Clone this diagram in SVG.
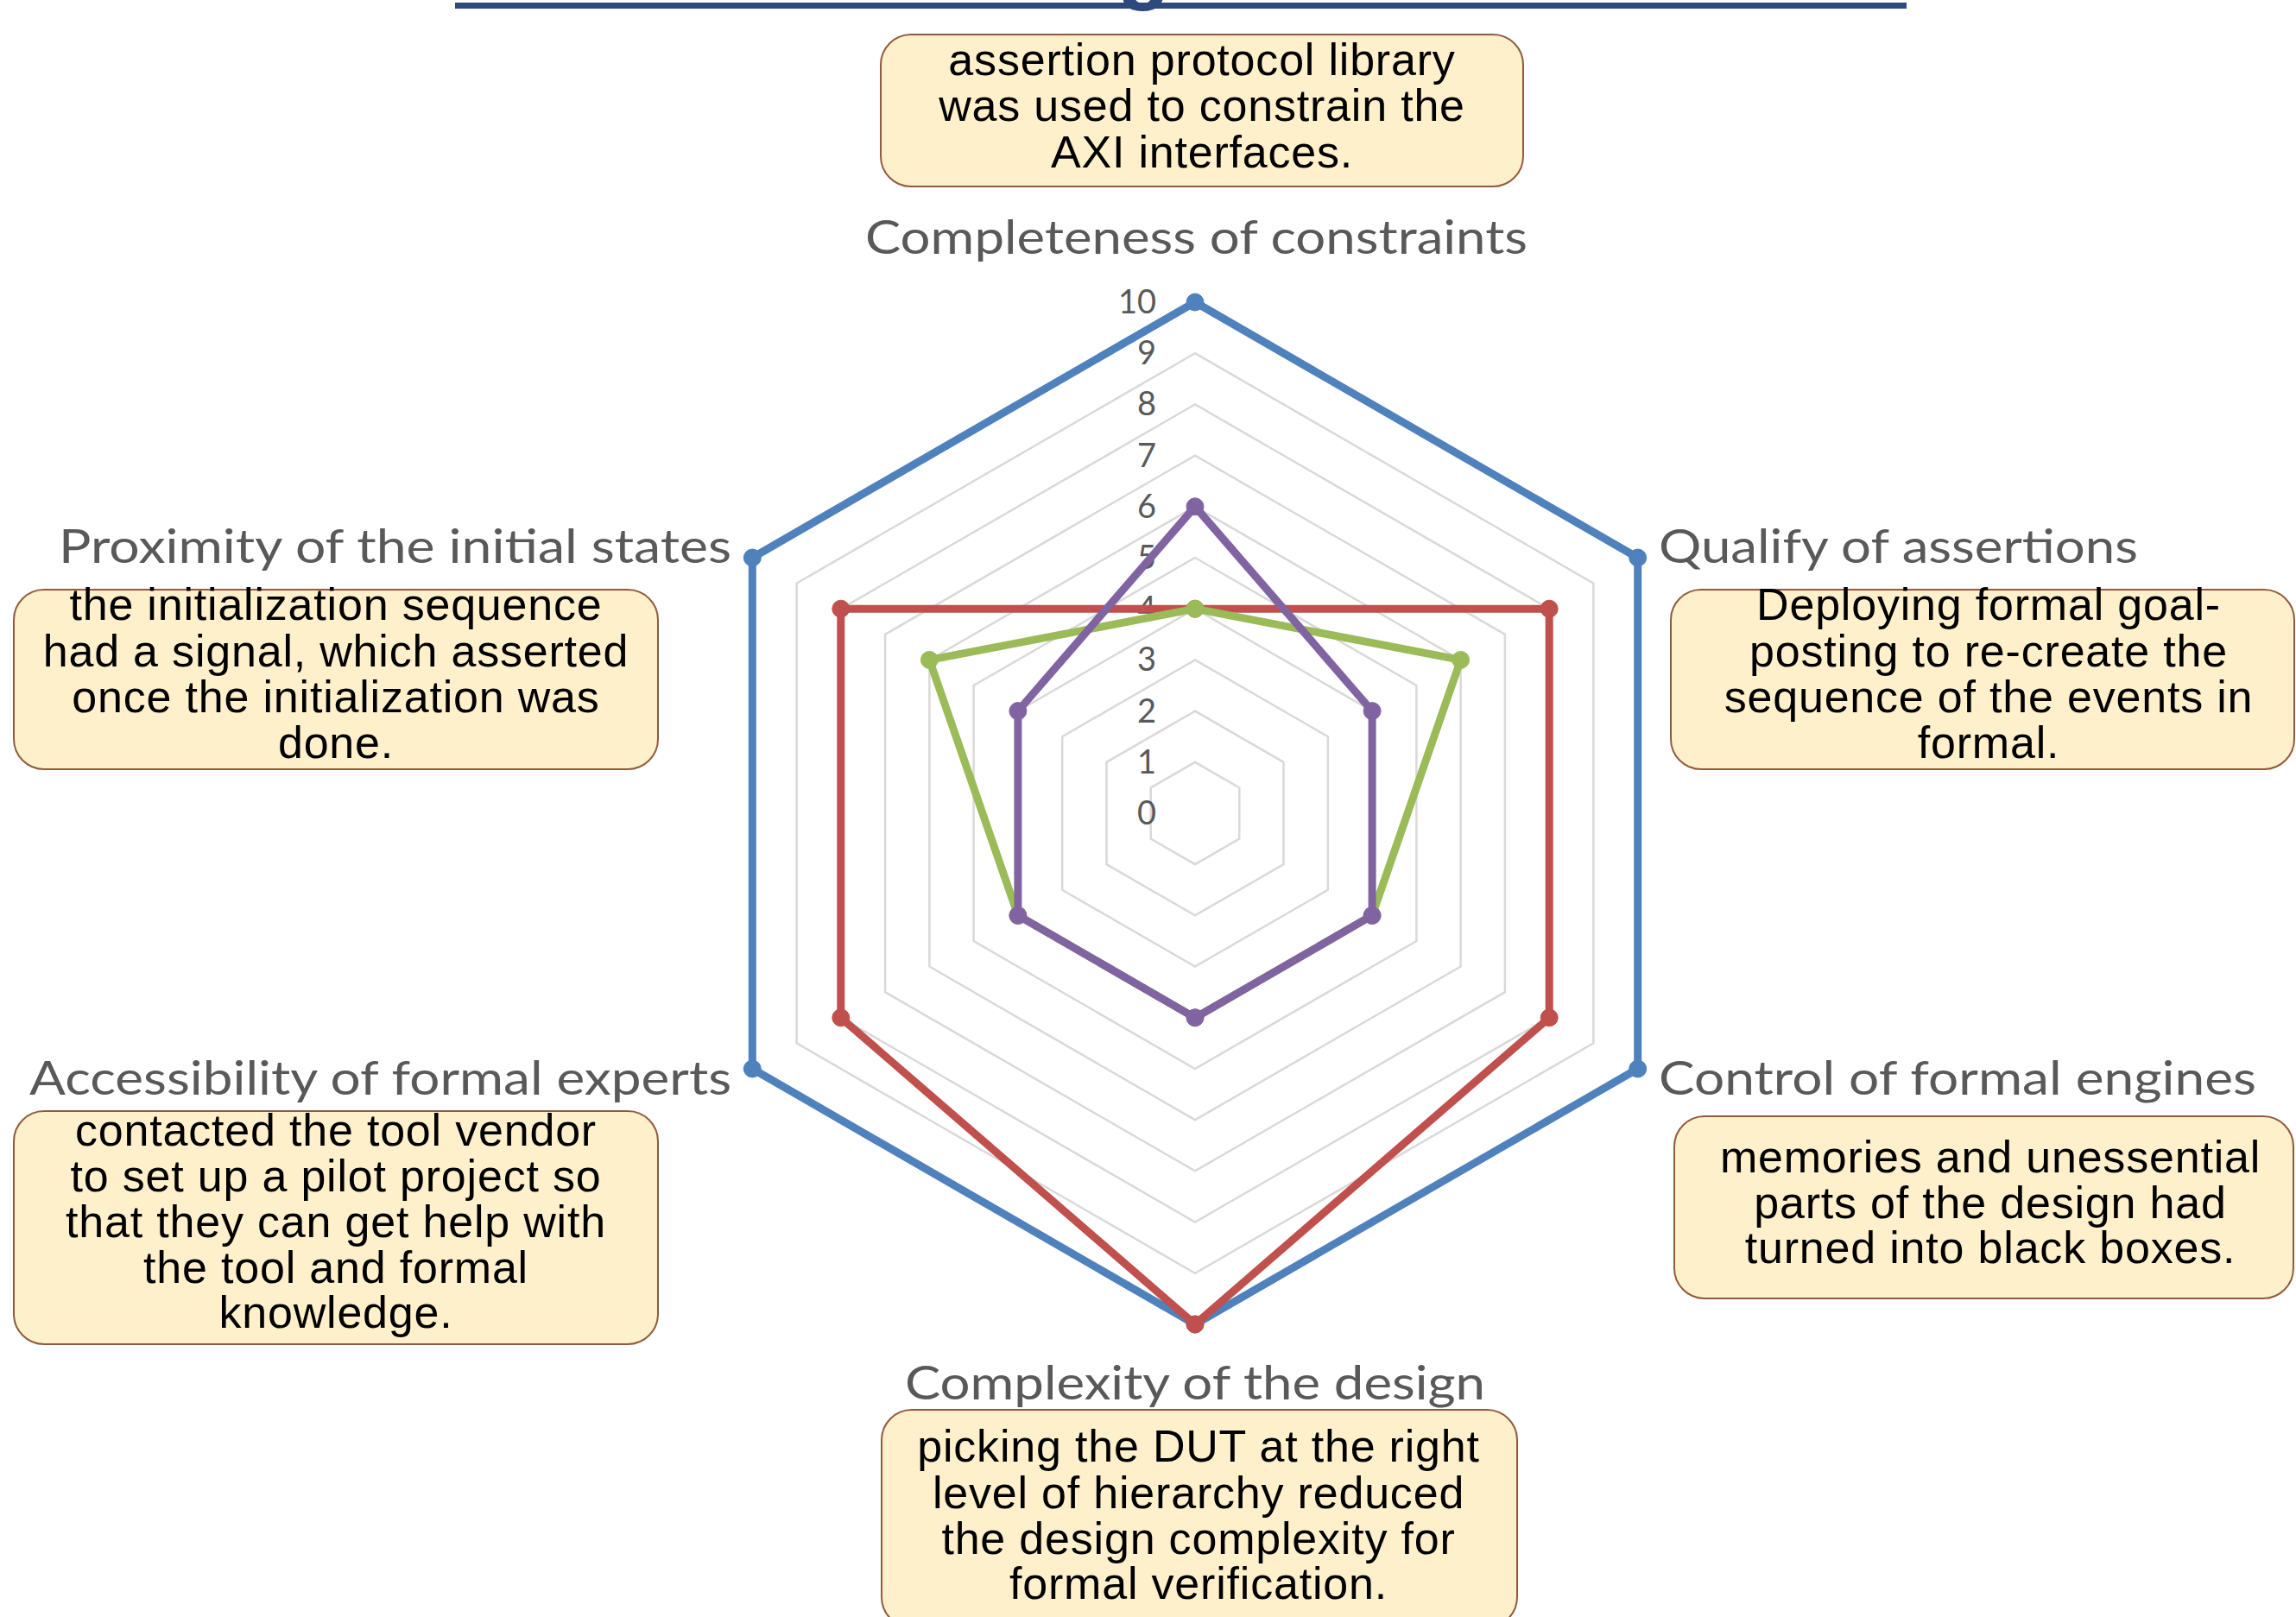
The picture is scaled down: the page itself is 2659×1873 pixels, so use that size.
<svg xmlns="http://www.w3.org/2000/svg" width="2659" height="1873" viewBox="0 0 2659 1873">
  <style>
    .grid { fill: none; stroke: #D9D9D9; stroke-width: 2.5; }
    .series { fill: none; stroke-width: 9; stroke-linejoin: round; }
    .num { font-family: Lato, "Liberation Sans", sans-serif; font-size: 38px; fill: #595959; text-anchor: end; }
    .cat { font-family: Lato, "Liberation Sans", sans-serif; font-size: 55px; fill: #595959; }
    .box { fill: #FFF0CC; stroke: #8F5B3E; stroke-width: 2; }
    .note { font-family: "Liberation Sans", Arial, sans-serif; font-size: 52px; letter-spacing: 0.8px; fill: #000000; text-anchor: middle; }
  </style>
  <rect x="0" y="0" width="2659" height="1873" fill="#FFFFFF"/>

  <g id="title-rule">
    <rect x="527" y="3" width="1681" height="7" fill="#2E4A7D"/>
    <text x="1294" y="-8" font-family="Liberation Sans, sans-serif" font-weight="bold" font-size="100" fill="#2E4A7D">g</text>
  </g>

  <g id="grid">
    <polygon class="grid" points="1384,882.8 1435.3,912.4 1435.3,971.6 1384,1001.2 1332.7,971.6 1332.7,912.4"/>
    <polygon class="grid" points="1384,823.6 1486.5,882.8 1486.5,1001.2 1384,1060.4 1281.5,1001.2 1281.5,882.8"/>
    <polygon class="grid" points="1384,764.4 1537.8,853.2 1537.8,1030.8 1384,1119.6 1230.2,1030.8 1230.2,853.2"/>
    <polygon class="grid" points="1384,705.2 1589.1,823.6 1589.1,1060.4 1384,1178.8 1178.9,1060.4 1178.9,823.6"/>
    <polygon class="grid" points="1384,646 1640.4,794 1640.4,1090 1384,1238 1127.6,1090 1127.6,794"/>
    <polygon class="grid" points="1384,586.8 1691.6,764.4 1691.6,1119.6 1384,1297.2 1076.4,1119.6 1076.4,764.4"/>
    <polygon class="grid" points="1384,527.6 1742.9,734.8 1742.9,1149.2 1384,1356.4 1025.1,1149.2 1025.1,734.8"/>
    <polygon class="grid" points="1384,468.4 1794.2,705.2 1794.2,1178.8 1384,1415.6 973.8,1178.8 973.8,705.2"/>
    <polygon class="grid" points="1384,409.2 1845.4,675.6 1845.4,1208.4 1384,1474.8 922.6,1208.4 922.6,675.6"/>
    <polygon class="grid" points="1384,350 1896.7,646 1896.7,1238 1384,1534 871.3,1238 871.3,646"/>
  </g>

  <g id="scale-labels">
    <text class="num" x="1339" y="955">0</text>
    <text class="num" x="1339" y="896">1</text>
    <text class="num" x="1339" y="837">2</text>
    <text class="num" x="1339" y="777">3</text>
    <text class="num" x="1339" y="718">4</text>
    <text class="num" x="1339" y="659">5</text>
    <text class="num" x="1339" y="600">6</text>
    <text class="num" x="1339" y="541">7</text>
    <text class="num" x="1339" y="481">8</text>
    <text class="num" x="1339" y="422">9</text>
    <text class="num" x="1339" y="363">10</text>
  </g>

  <g id="series-blue" stroke="#4F81BD" fill="#4F81BD">
    <polygon class="series" points="1384,350 1896.7,646 1896.7,1238 1384,1534 871.3,1238 871.3,646"/>
    <circle cx="1384" cy="350" r="10"/><circle cx="1896.7" cy="646" r="10"/><circle cx="1896.7" cy="1238" r="10"/>
    <circle cx="1384" cy="1534" r="10"/><circle cx="871.3" cy="1238" r="10"/><circle cx="871.3" cy="646" r="10"/>
  </g>
  <g id="series-red" stroke="#C0504D" fill="#C0504D">
    <polygon class="series" points="1384,705.2 1794.2,705.2 1794.2,1178.8 1384,1534 973.8,1178.8 973.8,705.2"/>
    <circle cx="1384" cy="705.2" r="10"/><circle cx="1794.2" cy="705.2" r="10"/><circle cx="1794.2" cy="1178.8" r="10"/>
    <circle cx="1384" cy="1534" r="10"/><circle cx="973.8" cy="1178.8" r="10"/><circle cx="973.8" cy="705.2" r="10"/>
  </g>
  <g id="series-green" stroke="#9BBB59" fill="#9BBB59">
    <polygon class="series" points="1384,705.2 1691.6,764.4 1589.1,1060.4 1384,1178.8 1178.9,1060.4 1076.4,764.4"/>
    <circle cx="1384" cy="705.2" r="10"/><circle cx="1691.6" cy="764.4" r="10"/><circle cx="1589.1" cy="1060.4" r="10"/>
    <circle cx="1384" cy="1178.8" r="10"/><circle cx="1178.9" cy="1060.4" r="10"/><circle cx="1076.4" cy="764.4" r="10"/>
  </g>
  <g id="series-purple" stroke="#8064A2" fill="#8064A2">
    <polygon class="series" points="1384,586.8 1589.1,823.6 1589.1,1060.4 1384,1178.8 1178.9,1060.4 1178.9,823.6"/>
    <circle cx="1384" cy="586.8" r="10"/><circle cx="1589.1" cy="823.6" r="10"/><circle cx="1589.1" cy="1060.4" r="10"/>
    <circle cx="1384" cy="1178.8" r="10"/><circle cx="1178.9" cy="1060.4" r="10"/><circle cx="1178.9" cy="823.6" r="10"/>
  </g>

  <g id="axis-labels">
    <text class="cat" x="1002" y="294" textLength="767" lengthAdjust="spacingAndGlyphs">Completeness of constraints</text>
    <text class="cat" x="1921" y="652" textLength="555" lengthAdjust="spacingAndGlyphs">Qualify of assertions</text>
    <text class="cat" x="1921" y="1268" textLength="692" lengthAdjust="spacingAndGlyphs">Control of formal engines</text>
    <text class="cat" x="1048" y="1621" textLength="672" lengthAdjust="spacingAndGlyphs">Complexity of the design</text>
    <text class="cat" x="34" y="1268" textLength="813" lengthAdjust="spacingAndGlyphs">Accessibility of formal experts</text>
    <text class="cat" x="68" y="652" textLength="779" lengthAdjust="spacingAndGlyphs">Proximity of the initial states</text>
  </g>

  <g id="note-completeness">
    <rect class="box" x="1020" y="40" width="744" height="176" rx="35"/>
    <text class="note" x="1392" y="87">assertion protocol library</text>
    <text class="note" x="1392" y="140">was used to constrain the</text>
    <text class="note" x="1392" y="194">AXI interfaces.</text>
  </g>
  <g id="note-proximity">
    <rect class="box" x="16" y="683" width="746" height="208" rx="35"/>
    <text class="note" x="389" y="718">the initialization sequence</text>
    <text class="note" x="389" y="772">had a signal, which asserted</text>
    <text class="note" x="389" y="825">once the initialization was</text>
    <text class="note" x="389" y="878">done.</text>
  </g>
  <g id="note-qualify">
    <rect class="box" x="1935" y="683" width="722" height="208" rx="35"/>
    <text class="note" x="2303" y="718">Deploying formal goal-</text>
    <text class="note" x="2303" y="772">posting to re-create the</text>
    <text class="note" x="2303" y="825">sequence of the events in</text>
    <text class="note" x="2303" y="878">formal.</text>
  </g>
  <g id="note-accessibility">
    <rect class="box" x="16" y="1287" width="746" height="270" rx="35"/>
    <text class="note" x="389" y="1327">contacted the tool vendor</text>
    <text class="note" x="389" y="1380">to set up a pilot project so</text>
    <text class="note" x="389" y="1433">that they can get help with</text>
    <text class="note" x="389" y="1486">the tool and formal</text>
    <text class="note" x="389" y="1538">knowledge.</text>
  </g>
  <g id="note-control">
    <rect class="box" x="1939" y="1293" width="717" height="211" rx="35"/>
    <text class="note" x="2305" y="1358">memories and unessential</text>
    <text class="note" x="2305" y="1411">parts of the design had</text>
    <text class="note" x="2305" y="1463">turned into black boxes.</text>
  </g>
  <g id="note-complexity">
    <rect class="box" x="1021" y="1633" width="736" height="252" rx="35"/>
    <text class="note" x="1388" y="1693">picking the DUT at the right</text>
    <text class="note" x="1388" y="1747">level of hierarchy reduced</text>
    <text class="note" x="1388" y="1800">the design complexity for</text>
    <text class="note" x="1388" y="1852">formal verification.</text>
  </g>
</svg>
